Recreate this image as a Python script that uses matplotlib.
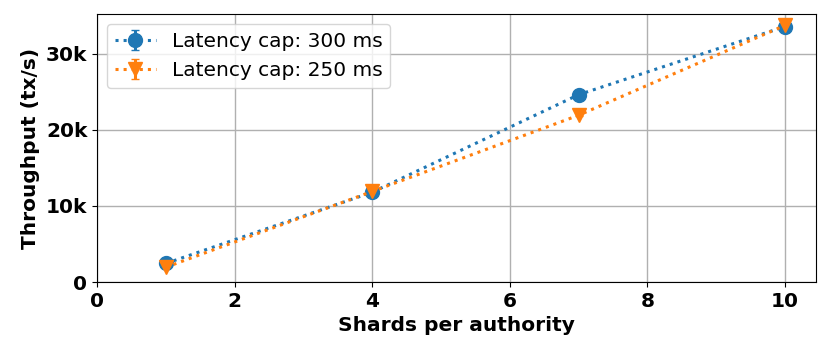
import matplotlib
matplotlib.use("Agg")
from matplotlib import pyplot as plt
from matplotlib.ticker import FuncFormatter, MultipleLocator

shards = [1, 4, 7, 10]
tput_300 = [2450, 11800, 24600, 33550]
err_300 = [150, 150, 150, 150]
tput_250 = [1950, 11900, 21900, 33700]
err_250 = [150, 150, 150, 150]

fs = 14.5

fig, ax = plt.subplots(figsize=(8.3, 3.58), dpi=100)
ax.errorbar(shards, tput_300, yerr=err_300, fmt="o:", color="tab:blue",
            markersize=10, linewidth=2.2, capsize=3, label="Latency cap: 300 ms")
ax.errorbar(shards, tput_250, yerr=err_250, fmt="v:", color="tab:orange",
            markersize=10, linewidth=2.2, capsize=3, label="Latency cap: 250 ms")

ax.set_xlim(0, 10.45)
ax.set_ylim(0, 35200)
ax.yaxis.set_major_locator(MultipleLocator(10000))
ax.yaxis.set_major_formatter(FuncFormatter(lambda v, _: f"{int(v / 1000)}k" if v else "0"))
ax.grid(True, color="#b0b0b0", linewidth=1)
ax.set_axisbelow(True)

for lbl in ax.get_xticklabels() + ax.get_yticklabels():
    lbl.set_fontweight("bold")
    lbl.set_fontsize(fs)
ax.set_xlabel("Shards per authority", fontsize=fs, fontweight="bold")
ax.set_ylabel("Throughput (tx/s)", fontsize=fs, fontweight="bold")
ax.legend(loc="upper left", fontsize=fs)

fig.subplots_adjust(left=0.117, right=0.983, top=0.961, bottom=0.212)
fig.savefig("out.png", dpi=100)
